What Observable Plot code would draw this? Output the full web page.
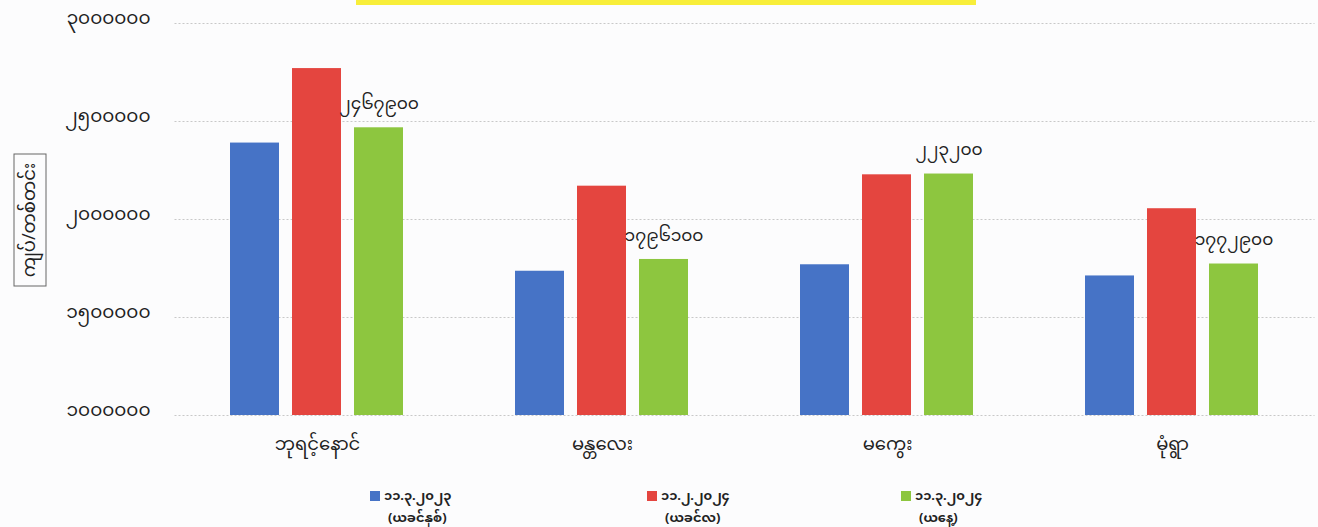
<!DOCTYPE html>
<html>
<head>
<meta charset="utf-8">
<script src="https://cdn.jsdelivr.net/npm/d3@7"></script>
<script src="https://cdn.jsdelivr.net/npm/@observablehq/plot@0.6"></script>
<style>
  body { margin: 0; background: #fcfcfd; }
  #wrap { position: relative; width: 1318px; height: 527px; overflow: hidden; background: #fcfcfd;
          font-family: "Noto Sans Myanmar", "Myanmar Text", "Padauk", "Noto Sans", "DejaVu Sans", sans-serif; color: #222; }
  #titlebar { position: absolute; left: 356px; top: 0; width: 620px; height: 5px; background: #f8ee3a; }
  #ylabel { position: absolute; left: 30px; top: 220px; width: 133px; height: 33px; box-sizing: border-box;
            transform: translate(-50%, -50%) rotate(-90deg); border: 1px solid #666;
            display: flex; align-items: center; justify-content: center; font-size: 18px; white-space: nowrap; }
  .leg { position: absolute; font-family: "Noto Sans", "Noto Sans Myanmar", "Padauk", sans-serif;
         font-size: 13px; font-weight: bold; line-height: 22px; white-space: nowrap; }
  .leg .sw { display: inline-block; width: 10px; height: 10px; margin-right: 4px; vertical-align: -1px; }
</style>
</head>
<body>
<div id="wrap">
  <div id="chart"></div>
  <div id="titlebar"></div>
  <div id="ylabel"></div>
  <div id="legend"></div>
</div>
<script>
// ---- data ----
const categories = ["ဘုရင့်နောင်", "မန္တလေး", "မကွေး", "မုံရွာ"];
const seriesKeys = ["prevYear", "prevMonth", "today"];
const seriesDates = ["၁၁.၃.၂၀၂၃", "၁၁.၂.၂၀၂၄", "၁၁.၃.၂၀၂၄"];
const seriesNotes = ["(ယခင်နှစ်)", "(ယခင်လ)", "(ယနေ့)"];
const seriesColors = ["#4673c6", "#e4453f", "#8dc63f"];
const prevYear  = [2390000, 1736000, 1769000, 1712000];
const prevMonth = [2770000, 2170000, 2228000, 2055000];
const today     = [2467900, 1796100, 2232000, 1772900];
const todayLabels = ["၂၄၆၇၉၀၀", "၁၇၉၆၁၀၀", "၂၂၃၂၀၀", "၁၇၇၂၉၀၀"];
const yTicks = [1000000, 1500000, 2000000, 2500000, 3000000];
const yLabel = "ကျပ်/တစ်တင်း";

const toMy = s => String(s).replace(/\d/g, d => "၀၁၂၃၄၅၆၇၈၉"[d]);
const seriesValues = {prevYear, prevMonth, today};
const rows = [];
categories.forEach((c, i) => seriesKeys.forEach(k => rows.push({category: c, series: k, value: seriesValues[k][i]})));
const labelRows = categories.map((c, i) => ({category: c, series: "today", value: today[i], label: todayLabels[i]}));

const font = getComputedStyle(document.getElementById("wrap")).fontFamily;

document.getElementById("ylabel").textContent = yLabel;
const legendX = [370, 647, 901];
const leg = document.getElementById("legend");
seriesKeys.forEach((k, i) => {
  const d = document.createElement("div");
  d.className = "leg";
  d.style.left = legendX[i] + "px";
  d.style.top = "484px";
  d.innerHTML = `<div><span class="sw" style="background:${seriesColors[i]}"></span>${seriesDates[i]}</div><div style="padding-left:18px">${seriesNotes[i]}</div>`;
  leg.appendChild(d);
});

const halfGap = -41.5;
const chart = Plot.plot({
  width: 1318,
  height: 470,
  marginLeft: 173,
  marginRight: 2,
  marginTop: 23,
  marginBottom: 55,
  style: {background: "transparent", fontFamily: font, color: "#222"},
  fx: {domain: categories, paddingInner: 0.29, paddingOuter: 0.145, label: null},
  x: {domain: seriesKeys, paddingInner: 0.206, paddingOuter: 0.213, axis: null},
  y: {domain: [1000000, 3000000], label: null},
  color: {domain: seriesKeys, range: seriesColors},
  marks: [
    Plot.ruleY(yTicks, {y: d => d, stroke: "#c8c8c8", strokeDasharray: "2,2", insetLeft: halfGap, insetRight: halfGap}),
    Plot.barY(rows, {fx: "category", x: "series", y1: () => 1000000, y2: "value", fill: "series"}),
    Plot.text(labelRows, {fx: "category", x: "series", y: "value", text: "label", dy: -24, fontSize: 17, fill: "#222"}),
    Plot.axisY({ticks: yTicks, tickFormat: toMy, tickSize: 0, tickPadding: 66, fontSize: 18.5, dy: -5, label: null}),
    Plot.axisFx({anchor: "bottom", tickSize: 0, tickPadding: 22, fontSize: 18, label: null})
  ]
});
document.getElementById("chart").appendChild(chart);
</script>
</body>
</html>
